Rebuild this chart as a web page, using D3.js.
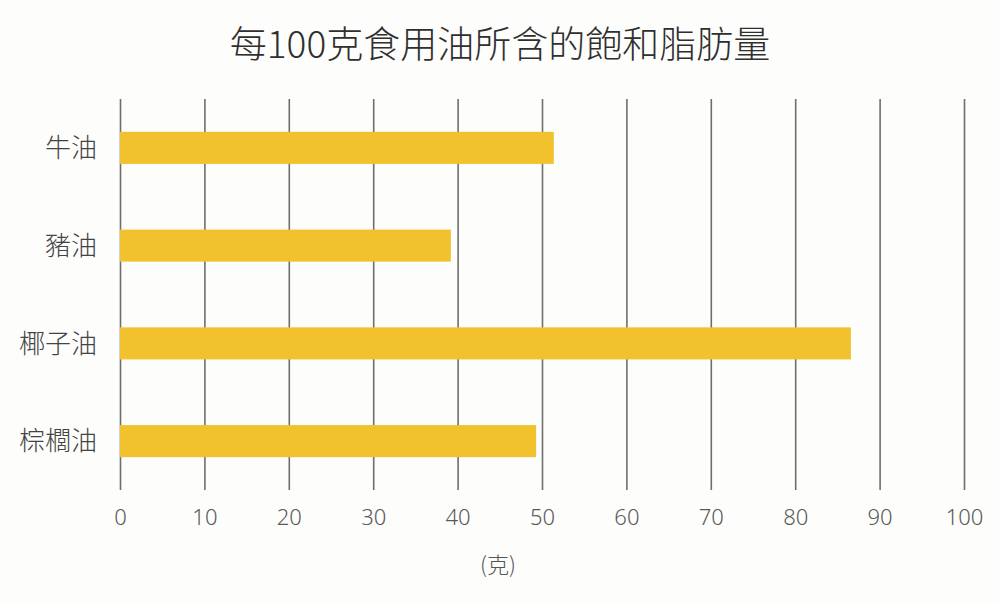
<!DOCTYPE html>
<html>
<head>
<meta charset="utf-8">
<script src="https://cdn.jsdelivr.net/npm/d3@7"></script>
<style>
  body { margin: 0; background: #fdfdfc; }
  svg { display: block; font-family: "Noto Sans CJK TC", "Noto Sans", sans-serif; }
</style>
</head>
<body>
<svg id="chart"></svg>
<script>
const width = 1000;
const height = 605;

const oils = ["牛油", "豬油", "椰子油", "棕櫚油"];
const fatValues = [51.4, 39.2, 86.6, 49.3];
const tickValues = [0, 10, 20, 30, 40, 50, 60, 70, 80, 90, 100];
const title = "每100克食用油所含的飽和脂肪量";
const unitLabel = "(克)";

const margin = { top: 99, right: 36, bottom: 115, left: 120 };

let svg = d3.select("#chart").attr("width", width).attr("height", height);

const x = d3.scaleLinear().domain([0, 100]).range([margin.left, width - margin.right]);
const y = d3
  .scaleBand()
  .domain(oils)
  .range([margin.top, height - margin.bottom])
  .paddingInner(0.672)
  .paddingOuter(0.336);

// Title
svg
  .append("text")
  .attr("x", width / 2)
  .attr("y", 58)
  .attr("text-anchor", "middle")
  .style("font-size", "37px")
  .style("font-weight", 300)
  .style("fill", "#2f2f2f")
  .text(title);

// Grid lines and tick labels from the bottom axis
const axis = svg
  .append("g")
  .attr("transform", `translate(0, ${height - margin.bottom})`)
  .call(
    d3
      .axisBottom(x)
      .tickValues(tickValues)
      .tickSize(-(height - margin.top - margin.bottom))
      .tickPadding(19)
  );
axis.select(".domain").remove();
axis.selectAll(".tick line").attr("stroke", "#6e6e6e").attr("stroke-width", 1.6);
axis
  .selectAll(".tick text")
  .style("font-size", "22px")
  .style("font-weight", 300)
  .style("fill", "#595959")
  .style("font-family", "Noto Sans, sans-serif");

// Bars
svg
  .append("g")
  .selectAll("rect")
  .data(oils)
  .join("rect")
  .attr("x", x(0))
  .attr("y", d => y(d))
  .attr("width", (d, i) => x(fatValues[i]) - x(0))
  .attr("height", y.bandwidth())
  .style("fill", "#f2c12e");

// Category labels
svg
  .append("g")
  .selectAll("text")
  .data(oils)
  .join("text")
  .attr("x", 97)
  .attr("y", d => y(d) + y.bandwidth() / 2)
  .attr("dy", "0.36em")
  .attr("text-anchor", "end")
  .style("font-size", "26px")
  .style("font-weight", 300)
  .style("fill", "#444")
  .text(d => d);

// Unit label
svg
  .append("text")
  .attr("x", 498)
  .attr("y", 573)
  .attr("text-anchor", "middle")
  .style("font-size", "22px")
  .style("font-weight", 300)
  .style("fill", "#555")
  .text(unitLabel);
</script>
</body>
</html>
